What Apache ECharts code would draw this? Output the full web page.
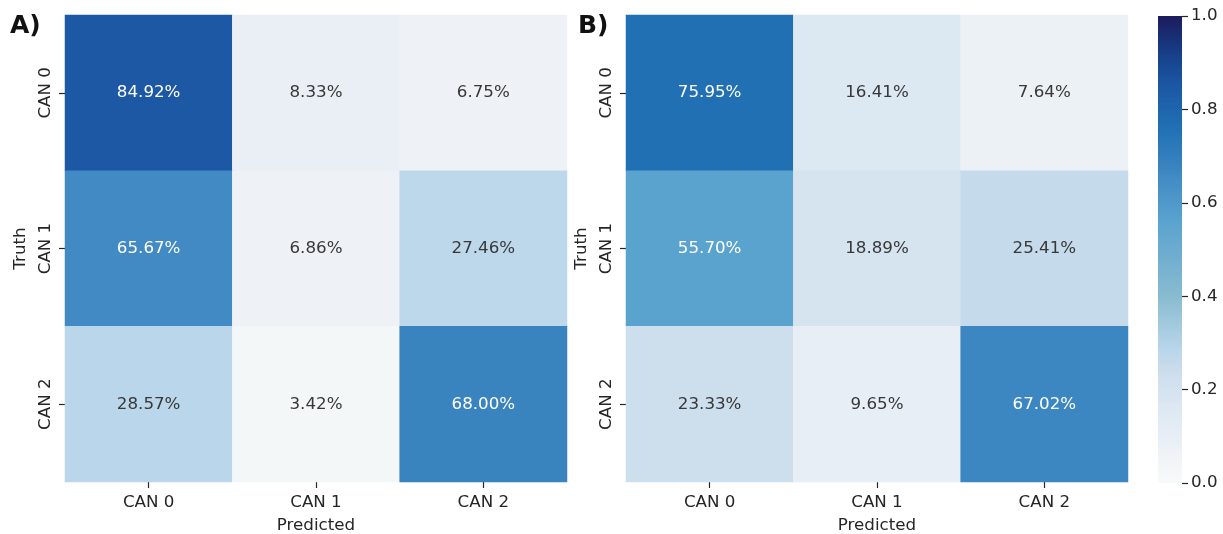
<!DOCTYPE html>
<html>
<head>
<meta charset="utf-8">
<style>
  html, body { margin: 0; padding: 0; background: #ffffff; }
  #chart { width: 1223px; height: 534px; }
</style>
<script src="https://cdn.jsdelivr.net/npm/echarts@6/dist/echarts.min.js"></script>
</head>
<body>
<div id="chart"></div>
<script>
// Class labels shared by both confusion matrices
const categories = ['CAN 0', 'CAN 1', 'CAN 2'];

// Row = truth class, column = predicted class (percent of row)
const confusionA = [
  [84.92, 8.33, 6.75],
  [65.67, 6.86, 27.46],
  [28.57, 3.42, 68.00]
];
const confusionB = [
  [75.95, 16.41, 7.64],
  [55.70, 18.89, 25.41],
  [23.33, 9.65, 67.02]
];

// Colorbar tick labels (fraction of 1)
const colorbarTicks = ['0.0', '0.2', '0.4', '0.6', '0.8', '1.0'];

// Panel tags
const panelTags = ['A)', 'B)'];

// Blue sequential colour ramp: anchor position (0..1) -> colour
const rampAnchors = [
  [0.000, '#f7fafc'],
  [0.034, '#f4f7f7'],
  [0.068, '#eef2f6'],
  [0.083, '#eaeff5'],
  [0.097, '#e8eef6'],
  [0.164, '#dce8f2'],
  [0.189, '#d6e4f0'],
  [0.233, '#cddeec'],
  [0.254, '#c5daea'],
  [0.280, '#bcd7eb'],
  [0.400, '#88bbd0'],
  [0.557, '#5ba3cf'],
  [0.657, '#418ac4'],
  [0.675, '#3a84c0'],
  [0.760, '#2170b4'],
  [0.850, '#1c58a4'],
  [0.920, '#173f88'],
  [1.000, '#1b1b5c']
];

function hexToRgb(h) {
  return [parseInt(h.slice(1, 3), 16), parseInt(h.slice(3, 5), 16), parseInt(h.slice(5, 7), 16)];
}
function rampAt(t) {
  for (let i = 1; i < rampAnchors.length; i++) {
    const [p1, c1] = rampAnchors[i];
    const [p0, c0] = rampAnchors[i - 1];
    if (t <= p1) {
      const f = (t - p0) / (p1 - p0);
      const a = hexToRgb(c0), b = hexToRgb(c1);
      const m = a.map((v, k) => Math.round(v + (b[k] - v) * f));
      return 'rgb(' + m.join(',') + ')';
    }
  }
  return rampAnchors[rampAnchors.length - 1][1];
}
// Evenly spaced colours for the visualMap
const RAMP_STEPS = 200;
const rampColors = [];
for (let i = 0; i <= RAMP_STEPS; i++) rampColors.push(rampAt(i / RAMP_STEPS));

// Vertical gradient (top = 1.0, bottom = 0.0) for the colorbar strip
const colorbarGradient = new echarts.graphic.LinearGradient(0, 1, 0, 0,
  rampColors.map((c, i) => ({ offset: i / RAMP_STEPS, color: c })));

const FONT = 'DejaVu Sans';
const INK = '#262626';
const CELL_INK = '#383838';
const FS = 16.7;

function cells(matrix) {
  const out = [];
  matrix.forEach((row, r) => {
    row.forEach((v, c) => {
      out.push({
        value: [c, r, v],
        label: { color: v > 45 ? '#ffffff' : CELL_INK }
      });
    });
  });
  return out;
}

function xAxisFor(gridIndex) {
  return {
    type: 'category',
    gridIndex: gridIndex,
    data: categories,
    position: 'bottom',
    axisLine: { show: false },
    axisTick: { show: true, length: 6, alignWithLabel: true, lineStyle: { color: INK, width: 1.2 } },
    axisLabel: { fontFamily: FONT, fontSize: FS, color: INK, margin: 12 },
    splitLine: { show: false },
    name: 'Predicted',
    nameLocation: 'middle',
    nameGap: 35,
    nameTextStyle: { fontFamily: FONT, fontSize: FS, color: INK }
  };
}
function yAxisFor(gridIndex) {
  return {
    type: 'category',
    gridIndex: gridIndex,
    data: categories,
    inverse: true,
    axisLine: { show: false },
    axisTick: { show: true, length: 6, alignWithLabel: true, lineStyle: { color: INK, width: 1.2 } },
    axisLabel: { fontFamily: FONT, fontSize: FS, color: INK, rotate: 90, margin: 11 },
    splitLine: { show: false },
    name: 'Truth',
    nameLocation: 'middle',
    nameGap: 36,
    nameTextStyle: { fontFamily: FONT, fontSize: FS, color: INK }
  };
}

function heatSeries(gridIndex, matrix) {
  return {
    type: 'heatmap',
    xAxisIndex: gridIndex,
    yAxisIndex: gridIndex,
    data: cells(matrix),
    label: {
      show: true,
      fontFamily: FONT,
      fontSize: FS,
      formatter: p => p.value[2].toFixed(2) + '%'
    },
    itemStyle: { borderWidth: 0 },
    emphasis: { disabled: true }
  };
}

const chart = echarts.init(document.getElementById('chart'), null, { renderer: 'canvas' });

chart.setOption({
  backgroundColor: '#ffffff',
  animation: false,
  grid: [
    { left: 65, top: 15, width: 502, height: 467, containLabel: false, outerBoundsMode: 'none' },
    { left: 626, top: 15, width: 502, height: 467, containLabel: false, outerBoundsMode: 'none' },
    { left: 1158, top: 16, width: 24, height: 467, containLabel: false, outerBoundsMode: 'none' }
  ],
  xAxis: [
    xAxisFor(0),
    xAxisFor(1),
    { type: 'value', gridIndex: 2, show: false, min: 0, max: 1 }
  ],
  yAxis: [
    yAxisFor(0),
    yAxisFor(1),
    {
      type: 'value',
      gridIndex: 2,
      position: 'right',
      z: 20,
      min: 0,
      max: 100,
      interval: 20,
      axisLine: { show: false, onZero: false },
      axisTick: { show: true, inside: false, length: 6, lineStyle: { color: INK, width: 1.2 } },
      axisLabel: {
        fontFamily: FONT, fontSize: FS, color: INK, margin: 9,
        formatter: v => colorbarTicks[Math.round(v / 20)]
      },
      splitLine: { show: false }
    }
  ],
  visualMap: {
    type: 'continuous',
    show: false,
    seriesIndex: [0, 1],
    min: 0,
    max: 100,
    inRange: { color: rampColors }
  },
  graphic: [
    {
      type: 'text', left: 10, top: 14,
      style: { text: panelTags[0], font: 'bold 25px "DejaVu Sans"', fill: '#111111' }
    },
    {
      type: 'text', left: 578, top: 14,
      style: { text: panelTags[1], font: 'bold 25px "DejaVu Sans"', fill: '#111111' }
    }
  ],
  series: [
    heatSeries(0, confusionA),
    heatSeries(1, confusionB),
    {
      // colour strip spanning the full 0..1 scale of the colorbar axis
      type: 'custom',
      xAxisIndex: 2,
      yAxisIndex: 2,
      z: 1,
      silent: true,
      data: [[0, 0]],
      renderItem: function (params, api) {
        const lo = api.coord([0, 0]);
        const hi = api.coord([1, 100]);
        return {
          type: 'rect',
          shape: { x: lo[0], y: hi[1], width: hi[0] - lo[0], height: lo[1] - hi[1] },
          style: { fill: colorbarGradient }
        };
      }
    }
  ]
});
</script>
</body>
</html>
